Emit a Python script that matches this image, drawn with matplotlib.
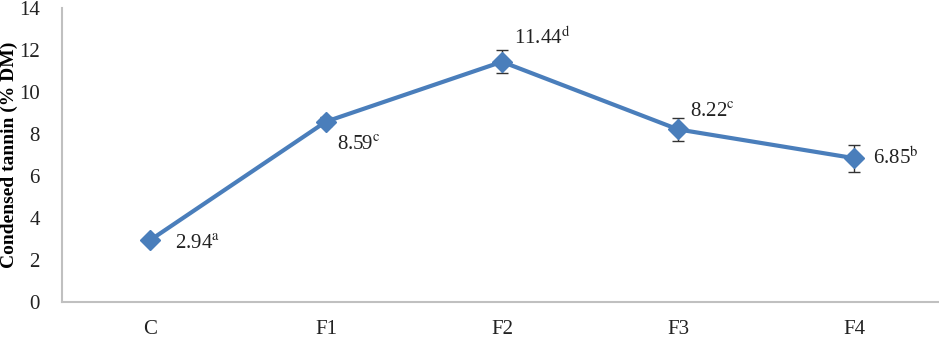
import matplotlib.pyplot as plt
import numpy as np

plt.rcParams['font.family'] = ['Liberation Serif', 'DejaVu Serif']
plt.rcParams['mathtext.fontset'] = 'stix'

# data
groups = ['C', 'F1', 'F2', 'F3', 'F4']
tannin = [2.94, 8.59, 11.44, 8.22, 6.85]
err = [0.1, 0.2, 0.55, 0.55, 0.65]
letters = ['a', 'c', 'd', 'c', 'b']

fig = plt.figure(figsize=(9.39, 3.46), dpi=100)
ax = fig.add_axes([62 / 939, 44 / 346, 880 / 939, 294 / 346])

x = np.arange(len(groups))
ax.errorbar(x, tannin, yerr=err, color='#4a7ebb', lw=3, marker='D', ms=10,
            ecolor='#333333', elinewidth=1, capsize=4, capthick=1, zorder=3)

# label offsets in points (dx, dy)
offs = [(18, -3), (8, -17), (9, 17), (9, 12), (14, 0)]
for xi, v, l, o in zip(x, tannin, letters, offs):
    ax.annotate('%.2f$^{\\mathrm{%s}}$' % (v, l), (xi, v), xytext=o,
                textcoords='offset points', ha='left', va='center',
                fontsize=15, color='#222222')

ax.set_xlim(-0.5, 4.5)
ax.set_ylim(0, 14)
ax.set_yticks(range(0, 15, 2))
ax.set_xticks(x)
ax.set_xticklabels(groups)
ax.tick_params(length=0, labelsize=15, colors='#222222')
ax.tick_params(axis='x', pad=13)
ax.tick_params(axis='y', pad=16)
for s in ['top', 'right']:
    ax.spines[s].set_visible(False)
for s in ['left', 'bottom']:
    ax.spines[s].set_color('#c0c0c0')
    ax.spines[s].set_linewidth(1.5)

ax.set_ylabel('Condensed tannin (% DM)', fontsize=14, fontweight='bold')
ax.yaxis.set_label_coords(-0.05, 0.5)

fig.savefig('out.png', dpi=100)
